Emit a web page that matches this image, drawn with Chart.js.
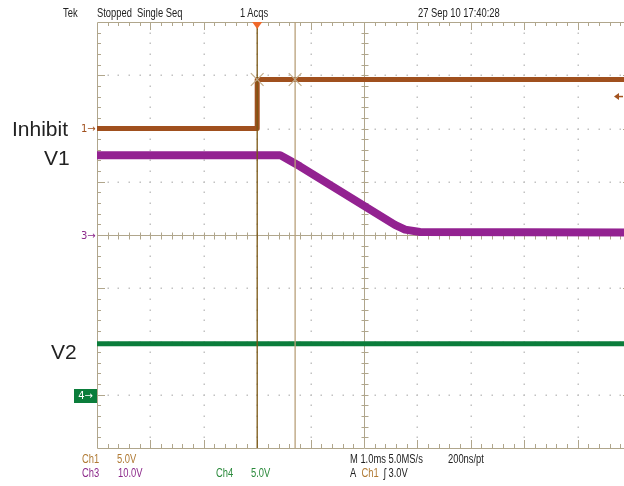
<!DOCTYPE html>
<html lang="en">
<head>
<meta charset="UTF-8">
<title>Inhibit / V1 / V2 scope capture</title>
<script src="https://cdn.jsdelivr.net/npm/chart.js"></script>
<style>
  body { margin: 0; width: 624px; height: 486px; overflow: hidden; background: #fff; }
  #wrap { position: relative; width: 634px; height: 486px; }
  #scope { width: 634px; height: 486px; }
  .t { position: absolute; white-space: nowrap; font-family: 'Liberation Sans', Arial, sans-serif; font-size: 12px; line-height: 12px; color: #222; transform: scaleX(0.78); transform-origin: 0 0; }
  .big { position: absolute; white-space: nowrap; font-family: 'Liberation Sans', Arial, sans-serif; font-size: 21px; line-height: 21px; color: #222; }
  .mk { position: absolute; white-space: nowrap; font-family: 'DejaVu Sans', sans-serif; font-size: 10px; line-height: 12px; }
  .c1 { color: #b07a34; }
  .c3 { color: #8d2a8b; }
  .c4 { color: #2b8a3c; }
</style>
</head>
<body>
<div id="wrap">
  <canvas id="scope" width="634" height="486"></canvas>

  <div class="t" style="left:63px;top:7px">Tek</div>
  <div class="t" style="left:97px;top:7px">Stopped&nbsp; Single Seq</div>
  <div class="t" style="left:240px;top:7px">1 Acqs</div>
  <div class="t" style="left:418px;top:7px">27 Sep 10 17:40:28</div>

  <div class="big" style="left:12px;top:118px">Inhibit</div>
  <div class="big" style="left:44px;top:147px">V1</div>
  <div class="big" style="left:51px;top:341px">V2</div>

  <div class="mk" style="left:81px;top:123px;color:#a0501e">1&#8594;</div>
  <div class="mk" style="left:81px;top:230px;color:#8d2a8b">3&#8594;</div>
  <div class="mk" style="left:74px;top:389px;width:23px;height:14px;line-height:14px;background:#0b7d3b;color:#fff;text-align:center">4&#8594;</div>

  <div class="t c1" style="left:82px;top:453px">Ch1</div>
  <div class="t c1" style="left:117px;top:453px">5.0V</div>
  <div class="t" style="left:350px;top:453px">M 1.0ms 5.0MS/s</div>
  <div class="t" style="left:448px;top:453px">200ns/pt</div>
  <div class="t c3" style="left:82px;top:467px">Ch3</div>
  <div class="t c3" style="left:118px;top:467px">10.0V</div>
  <div class="t c4" style="left:216px;top:467px">Ch4</div>
  <div class="t c4" style="left:251px;top:467px">5.0V</div>
  <div class="t" style="left:350px;top:467px">A&nbsp; <span class="c1">Ch1</span>&nbsp; &#643; 3.0V</div>
</div>

<script>
// time in ms relative to the trigger, 1 ms/div, trigger 3 div from the left
const timeMin = -3;
const timeMax = 7;

// channel settings (volts per division, ground position in divisions from centre)
const ch1VoltsPerDiv = 5;
const ch1Ground = 2;
const ch3VoltsPerDiv = 10;
const ch3Ground = 0;
const ch4VoltsPerDiv = 5;
const ch4Ground = -3;
const triggerLevel = 3.0;

// Ch1 - Inhibit
const inhibitTime = [-3, 0, 0, 7];
const inhibitVolts = [0, 0, 4.6, 4.6];

// Ch3 - V1
const v1Time = [-3, 0.43, 0.61, 0.80, 2.58, 2.77, 3.05, 7];
const v1Volts = [15.0, 15.0, 14.0, 12.9, 1.9, 1.0, 0.55, 0.45];

// Ch4 - V2
const v2Time = [-3, 7];
const v2Volts = [4.8, 4.8];

// cursors (ms)
const cursorTimes = [0, 0.71];

const toDiv = (volts, perDiv, ground) => volts.map(v => ground + v / perDiv);
const toPoints = (t, d) => t.map((x, i) => ({ x: x, y: d[i] }));

const gratColor = '#b0a68c';

const graticule = {
    id: 'graticule',
    beforeDatasetsDraw(chart) {
        const { ctx, chartArea: a, scales: { x, y } } = chart;
        ctx.save();

        // dotted division lines
        ctx.fillStyle = '#c2c2c2';
        for (let i = timeMin + 1; i < timeMax; i++) {
            if (i === 2) continue;
            const px = Math.round(x.getPixelForValue(i));
            for (let k = -4 * 5 + 1; k < 4 * 5; k++) {
                const py = Math.round(y.getPixelForValue(k / 5));
                ctx.fillRect(px - 0.5, py - 0.5, 1.5, 1.5);
            }
        }
        for (let j = -3; j <= 3; j++) {
            if (j === 0) continue;
            const py = Math.round(y.getPixelForValue(j));
            for (let k = timeMin * 5 + 1; k < timeMax * 5; k++) {
                const px = Math.round(x.getPixelForValue(k / 5));
                ctx.fillRect(px - 0.5, py - 0.5, 1.5, 1.5);
            }
        }

        ctx.strokeStyle = gratColor;
        ctx.lineWidth = 1;
        ctx.beginPath();
        // frame
        ctx.rect(Math.round(a.left) + 0.5, Math.round(a.top) + 0.5, Math.round(a.right - a.left), Math.round(a.bottom - a.top));

        // centre cross
        const cx = Math.round(x.getPixelForValue(2)) + 0.5;
        const cy = Math.round(y.getPixelForValue(0)) + 0.5;
        ctx.moveTo(cx, a.top); ctx.lineTo(cx, a.bottom);
        ctx.moveTo(a.left, cy); ctx.lineTo(a.right, cy);

        // ticks along top / bottom edges and horizontal centre line
        for (let k = timeMin * 5 + 1; k < timeMax * 5; k++) {
            const px = Math.round(x.getPixelForValue(k / 5)) + 0.5;
            const len = k % 5 === 0 ? 8 : 4;
            ctx.moveTo(px, a.top); ctx.lineTo(px, a.top + len);
            ctx.moveTo(px, a.bottom); ctx.lineTo(px, a.bottom - len);
            ctx.moveTo(px, cy - 3); ctx.lineTo(px, cy + 4);
        }
        // ticks along left / right edges and vertical centre line
        for (let k = -4 * 5 + 1; k < 4 * 5; k++) {
            const py = Math.round(y.getPixelForValue(k / 5)) + 0.5;
            const len = k % 5 === 0 ? 8 : 4;
            ctx.moveTo(a.left, py); ctx.lineTo(a.left + len, py);
            ctx.moveTo(a.right, py); ctx.lineTo(a.right - len, py);
            ctx.moveTo(cx - 3, py); ctx.lineTo(cx + 4, py);
        }
        ctx.stroke();
        ctx.restore();
    },
    afterDatasetsDraw(chart) {
        const { ctx, chartArea: a, scales: { x, y } } = chart;
        ctx.save();
        // trigger position marker
        const tx = x.getPixelForValue(0);
        ctx.fillStyle = '#f0692a';
        ctx.beginPath();
        ctx.moveTo(tx - 5, a.top);
        ctx.lineTo(tx + 5, a.top);
        ctx.lineTo(tx, a.top + 7);
        ctx.closePath();
        ctx.fill();

        // trigger level arrow on the right
        const ly = y.getPixelForValue(ch1Ground + triggerLevel / ch1VoltsPerDiv);
        ctx.fillStyle = '#a3531f';
        ctx.strokeStyle = '#a3531f';
        ctx.lineWidth = 1.5;
        ctx.beginPath();
        ctx.moveTo(614, ly); ctx.lineTo(619, ly - 3.5); ctx.lineTo(619, ly + 3.5);
        ctx.closePath();
        ctx.fill();
        ctx.beginPath();
        ctx.moveTo(618, ly); ctx.lineTo(623, ly);
        ctx.stroke();
        ctx.restore();
    }
};

const inhibitHigh = ch1Ground + inhibitVolts[2] / ch1VoltsPerDiv;

new Chart(document.getElementById('scope'), {
    type: 'line',
    data: {
        datasets: [
            {
                label: 'Ch1 Inhibit',
                data: toPoints(inhibitTime, toDiv(inhibitVolts, ch1VoltsPerDiv, ch1Ground)),
                borderColor: '#a0501e',
                borderWidth: 5,
                order: 3
            },
            {
                label: 'Ch3 V1',
                data: toPoints(v1Time, toDiv(v1Volts, ch3VoltsPerDiv, ch3Ground)),
                borderColor: '#932291',
                borderWidth: 8,
                order: 3
            },
            {
                label: 'Ch4 V2',
                data: toPoints(v2Time, toDiv(v2Volts, ch4VoltsPerDiv, ch4Ground)),
                borderColor: '#0b7d3b',
                borderWidth: 5,
                order: 3
            },
            {
                label: 'Cursor a',
                data: [{ x: cursorTimes[0], y: -4 }, { x: cursorTimes[0], y: 4 }],
                borderColor: '#7a5712',
                borderWidth: 1.3,
                order: 1
            },
            {
                label: 'Cursor b',
                data: [{ x: cursorTimes[1], y: -4 }, { x: cursorTimes[1], y: 4 }],
                borderColor: '#b8a07a',
                borderWidth: 1.3,
                order: 1
            },
            {
                label: 'Cursor marks',
                data: cursorTimes.map(t => ({ x: t, y: inhibitHigh })),
                showLine: false,
                pointStyle: 'crossRot',
                pointRadius: 9,
                pointBorderColor: '#c2ad8c',
                pointBorderWidth: 1.2,
                order: 0
            }
        ]
    },
    options: {
        responsive: false,
        animation: false,
        devicePixelRatio: 1,
        layout: { autoPadding: false, padding: { left: 97, top: 22, right: 3, bottom: 38 } },
        elements: {
            point: { radius: 0, hoverRadius: 0 },
            line: { tension: 0, borderJoinStyle: 'round' }
        },
        scales: {
            x: { type: 'linear', min: timeMin, max: timeMax, display: false },
            y: { type: 'linear', min: -4, max: 4, display: false }
        },
        plugins: {
            legend: { display: false },
            tooltip: { enabled: false }
        }
    },
    plugins: [graticule]
});
</script>
</body>
</html>
